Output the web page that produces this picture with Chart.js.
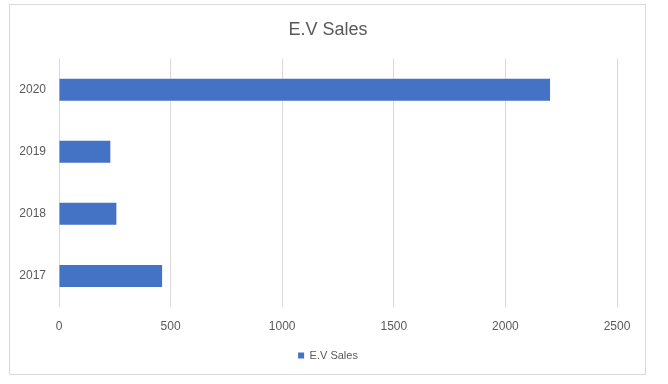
<!DOCTYPE html>
<html>
<head>
<meta charset="utf-8">
<script src="https://cdn.jsdelivr.net/npm/chart.js@4/dist/chart.umd.min.js"></script>
<style>
  html, body { margin: 0; padding: 0; background: #fff; }
  #wrap { width: 668px; height: 384px; }
</style>
</head>
<body>
<div id="wrap"><canvas id="evChart" width="668" height="384"></canvas></div>
<script>
// data
const years = ['2017', '2018', '2019', '2020'];
const evSales = [462, 257, 230, 2200];
const xTicks = [0, 500, 1000, 1500, 2000, 2500];

const textColor = '#595959';
const gridColor = '#d9d9d9';

// outer chart border like the spreadsheet frame
const frame = {
  id: 'frame',
  beforeDraw(chart) {
    const c = chart.ctx;
    c.save();
    c.fillStyle = '#fff';
    c.fillRect(0, 0, chart.width, chart.height);
    c.strokeStyle = gridColor;
    c.lineWidth = 1;
    c.strokeRect(9.5, 4.5, 636, 370);
    c.restore();
  }
};

new Chart(document.getElementById('evChart'), {
  type: 'bar',
  data: {
    labels: years,
    datasets: [{
      label: 'E.V Sales',
      data: evSales,
      backgroundColor: '#4472c4',
      categoryPercentage: 1,
      barPercentage: 0.355
    }]
  },
  options: {
    indexAxis: 'y',
    responsive: false,
    animation: false,
    layout: { padding: { left: 10, right: 22, top: 0, bottom: 13 } },
    scales: {
      x: {
        min: 0,
        max: 2500,
        afterBuildTicks: (s) => { s.ticks = xTicks.map(v => ({ value: v })); },
        afterFit: (s) => { s.height = 33; },
        grid: { color: gridColor, drawTicks: false },
        border: { display: false },
        ticks: {
          color: textColor,
          padding: 12,
          font: { family: 'Liberation Sans', size: 12 },
          callback: (v) => String(v)
        }
      },
      y: {
        reverse: true,
        grid: { display: false, drawTicks: false },
        border: { display: false },
        afterFit: (s) => { s.width = 49; },
        ticks: { color: textColor, padding: 13, font: { family: 'Liberation Sans', size: 12 } }
      },
      // empty right-hand gutter so the plot ends at 2500 while title/legend centre on the frame
      gutter: {
        type: 'category',
        position: 'right',
        grid: { display: false, drawTicks: false },
        border: { display: false },
        ticks: { display: false },
        afterFit: (s) => { s.width = 29; }
      }
    },
    plugins: {
      title: {
        display: true,
        text: 'E.V Sales',
        color: textColor,
        font: { family: 'Liberation Sans', size: 18, weight: 'normal' },
        padding: { top: 19, bottom: 18 }
      },
      legend: {
        position: 'bottom',
        labels: {
          color: textColor,
          boxWidth: 6,
          boxHeight: 6,
          padding: 10,
          font: { family: 'Liberation Sans', size: 11 }
        }
      },
      tooltip: { enabled: false }
    }
  },
  plugins: [frame]
});
</script>
</body>
</html>
